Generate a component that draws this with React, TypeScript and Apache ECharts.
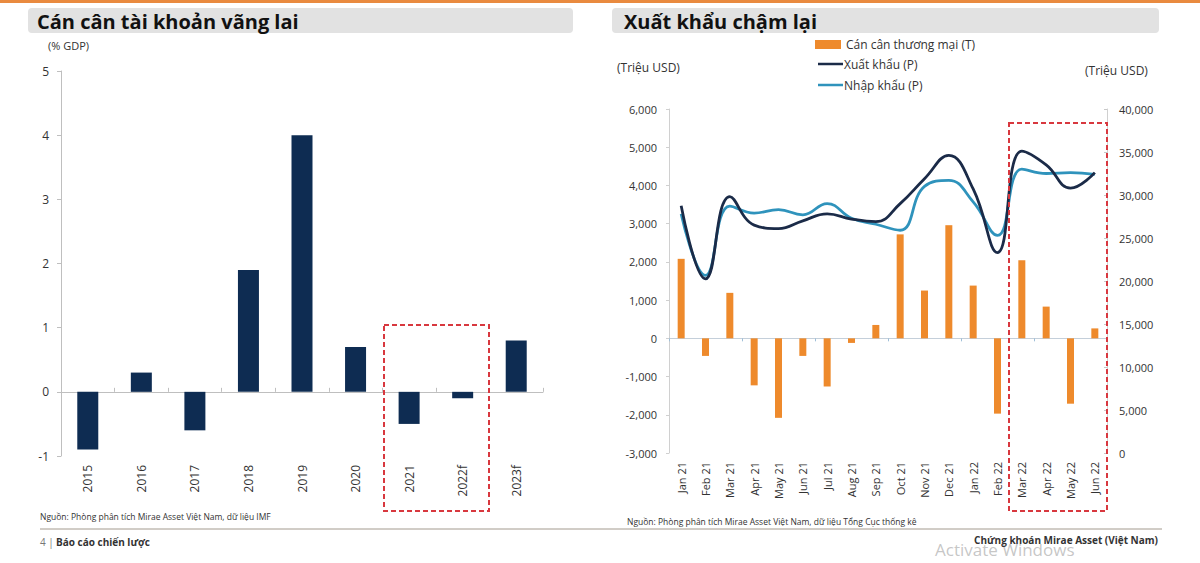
import React, { useEffect, useRef } from "react";
import * as echarts from "echarts";

const years = ["2015", "2016", "2017", "2018", "2019", "2020", "2021", "2022f", "2023f"];
const currentAccount = [-0.9, 0.3, -0.6, 1.9, 4.0, 0.7, -0.5, -0.1, 0.8];

const months = [
  "Jan 21", "Feb 21", "Mar 21", "Apr 21", "May 21", "Jun 21", "Jul 21", "Aug 21", "Sep 21",
  "Oct 21", "Nov 21", "Dec 21", "Jan 22", "Feb 22", "Mar 22", "Apr 22", "May 22", "Jun 22",
];
const tradeBalance = [2080, -460, 1190, -1230, -2080, -460, -1260, -120, 350, 2720, 1250, 2960, 1380, -1970, 2040, 830, -1710, 260];
const exportsP = [28750, 20250, 29800, 26500, 26100, 27000, 27800, 27200, 26900, 29000, 31900, 34600, 30700, 23300, 35100, 33500, 30800, 32600];
const importsP = [27800, 20650, 28700, 27900, 28300, 27700, 29000, 27300, 26600, 25900, 31000, 31700, 29200, 25300, 33000, 32500, 32600, 32400];

const leftTicks = { min: -1, max: 5, interval: 1 };
const rightLeftTicks = { min: -3000, max: 6000, interval: 1000 };
const rightRightTicks = { min: 0, max: 40000, interval: 5000 };

const FONT = "'Open Sans', 'Noto Sans', sans-serif";
const NAVY_BAR = "#0E2C52";
const ORANGE = "#EE8A2C";
const NAVY_LINE = "#1B2B48";
const TEAL_LINE = "#2F93BC";
const RED = "#D8383F";
const AXIS_GRAY = "#BFBFBF";

const fmt = (v: number) => v.toLocaleString("en-US");

export default function App() {
  const ref = useRef<HTMLDivElement>(null);

  useEffect(() => {
    if (!ref.current) return;
    const chart = echarts.init(ref.current, undefined, { renderer: "svg" });

    const option: any = {
      animation: false,
      backgroundColor: "#ffffff",
      textStyle: { fontFamily: FONT },
      grid: [
        { left: 61, right: 657, top: 71, bottom: 107 },
        { left: 669, right: 93, top: 109, bottom: 110 },
      ],
      xAxis: [
        {
          gridIndex: 0, type: "category", data: years, position: "bottom",
          axisLine: { show: false, onZero: false }, axisTick: { show: false },
          axisLabel: { rotate: 90, margin: 9, fontSize: 12, color: "#333", fontFamily: FONT },
        },
        {
          gridIndex: 0, type: "category", data: years, position: "bottom",
          axisLine: { show: true, onZero: true, onZeroAxisIndex: 0, lineStyle: { color: AXIS_GRAY, width: 1 } },
          axisTick: { show: true, inside: true, length: 4, lineStyle: { color: AXIS_GRAY } },
          axisLabel: { show: false },
        },
        {
          gridIndex: 1, type: "category", data: months, position: "bottom",
          axisLine: { show: false, onZero: false }, axisTick: { show: false },
          axisLabel: { rotate: 90, margin: 9, fontSize: 11, color: "#333", fontFamily: FONT },
        },
        {
          gridIndex: 1, type: "category", data: months, position: "bottom",
          axisLine: { show: true, onZero: true, lineStyle: { color: "#C4CFDA", width: 1 } },
          axisTick: { show: true, inside: false, length: 3, lineStyle: { color: "#9FBFD8" } },
          axisLabel: { show: false },
        },
      ],
      yAxis: [
        {
          gridIndex: 0, type: "value", ...leftTicks,
          splitLine: { show: false },
          axisLine: { show: true, lineStyle: { color: AXIS_GRAY } },
          axisTick: { show: true, length: 4, lineStyle: { color: AXIS_GRAY } },
          axisLabel: { margin: 12, fontSize: 12, color: "#333", fontFamily: FONT },
        },
        {
          gridIndex: 1, type: "value", position: "left", ...rightLeftTicks,
          splitLine: { show: false },
          axisLine: { show: true, lineStyle: { color: "#D0D0D0" } },
          axisTick: { show: true, length: 3, lineStyle: { color: "#D0D0D0" } },
          axisLabel: { margin: 12, fontSize: 11, color: "#333", fontFamily: FONT, formatter: fmt },
        },
        {
          gridIndex: 1, type: "value", position: "right", ...rightRightTicks,
          splitLine: { show: false },
          axisLine: { show: true, lineStyle: { color: "#D0D0D0" } },
          axisTick: { show: true, inside: true, length: 3, lineStyle: { color: "#C8C8C8" } },
          axisLabel: { margin: 12, fontSize: 11, color: "#333", fontFamily: FONT, formatter: fmt },
        },
      ],
      series: [
        {
          name: "Cán cân tài khoản vãng lai", type: "bar", xAxisIndex: 0, yAxisIndex: 0,
          data: currentAccount, barWidth: 21, itemStyle: { color: NAVY_BAR },
        },
        {
          name: "Cán cân thương mại (T)", type: "bar", xAxisIndex: 2, yAxisIndex: 1,
          data: tradeBalance, barWidth: 7, itemStyle: { color: ORANGE },
        },
        {
          name: "Nhập khẩu (P)", type: "line", xAxisIndex: 2, yAxisIndex: 2,
          data: importsP, smooth: 0.45, symbol: "none",
          lineStyle: { color: TEAL_LINE, width: 2.8 }, itemStyle: { color: TEAL_LINE }, z: 3,
        },
        {
          name: "Xuất khẩu (P)", type: "line", xAxisIndex: 2, yAxisIndex: 2,
          data: exportsP, smooth: 0.45, symbol: "none",
          lineStyle: { color: NAVY_LINE, width: 2.8 }, itemStyle: { color: NAVY_LINE }, z: 4,
        },
      ],
      graphic: [
        // top orange rule
        { type: "rect", shape: { x: 0, y: 0, width: 1200, height: 3 }, style: { fill: "#E98A3F" }, silent: true },
        // title bars
        { type: "rect", shape: { x: 28, y: 8, width: 545, height: 25, r: 4 }, style: { fill: "#E2E2E2" } },
        { type: "rect", shape: { x: 612, y: 8, width: 547, height: 25, r: 4 }, style: { fill: "#E2E2E2" } },
        {
          type: "text", x: 37, y: 21,
          style: { text: "Cán cân tài khoản vãng lai", fill: "#111", font: `bold 20px ${FONT}`, verticalAlign: "middle" },
        },
        {
          type: "text", x: 624, y: 21,
          style: { text: "Xuất khẩu chậm lại", fill: "#111", font: `bold 20px ${FONT}`, verticalAlign: "middle" },
        },
        // unit labels
        { type: "text", x: 48, y: 45, style: { text: "(% GDP)", fill: "#333", font: `11px ${FONT}`, verticalAlign: "middle" } },
        { type: "text", x: 617, y: 67, style: { text: "(Triệu USD)", fill: "#333", font: `12px ${FONT}`, verticalAlign: "middle" } },
        { type: "text", x: 1085, y: 70, style: { text: "(Triệu USD)", fill: "#333", font: `12px ${FONT}`, verticalAlign: "middle" } },
        // legend
        { type: "rect", shape: { x: 815, y: 40, width: 26, height: 9 }, style: { fill: ORANGE } },
        { type: "text", x: 846, y: 44, style: { text: "Cán cân thương mại (T)", fill: "#333", font: `12px ${FONT}`, verticalAlign: "middle" } },
        { type: "line", shape: { x1: 818, y1: 64, x2: 843, y2: 64 }, style: { stroke: NAVY_LINE, lineWidth: 2.5 } },
        { type: "text", x: 844, y: 64, style: { text: "Xuất khẩu (P)", fill: "#333", font: `12px ${FONT}`, verticalAlign: "middle" } },
        { type: "line", shape: { x1: 818, y1: 85, x2: 843, y2: 85 }, style: { stroke: TEAL_LINE, lineWidth: 2.5 } },
        { type: "text", x: 844, y: 85, style: { text: "Nhập khẩu (P)", fill: "#333", font: `12px ${FONT}`, verticalAlign: "middle" } },
        // red dashed highlight boxes
        {
          type: "rect", shape: { x: 384, y: 325, width: 105, height: 186 },
          style: { fill: "none", stroke: RED, lineWidth: 2, lineDash: [5, 3] }, z: 10,
        },
        {
          type: "rect", shape: { x: 1009, y: 123, width: 98, height: 388 },
          style: { fill: "none", stroke: RED, lineWidth: 2, lineDash: [5, 3] }, z: 10,
        },
        // sources
        {
          type: "text", x: 40, y: 516,
          style: { text: "Nguồn: Phòng phân tích Mirae Asset Việt Nam, dữ liệu IMF", fill: "#333", font: `8.5px ${FONT}`, verticalAlign: "middle" },
        },
        {
          type: "text", x: 627, y: 521,
          style: { text: "Nguồn: Phòng phân tích Mirae Asset Việt Nam, dữ liệu Tổng Cục thống kê", fill: "#333", font: `8.5px ${FONT}`, verticalAlign: "middle" },
        },
        // footer
        { type: "line", shape: { x1: 40, y1: 529, x2: 1162, y2: 529 }, style: { stroke: "#A39A8E", lineWidth: 1 } },
        { type: "text", x: 40, y: 542, style: { text: "4 |", fill: "#777", font: `10px ${FONT}`, verticalAlign: "middle" } },
        { type: "text", x: 56, y: 542, style: { text: "Báo cáo chiến lược", fill: "#333", font: `bold 10px ${FONT}`, verticalAlign: "middle" } },
        {
          type: "text", x: 935, y: 549,
          style: { text: "Activate Windows", fill: "rgba(150,150,150,0.55)", font: `17px ${FONT}`, verticalAlign: "middle" },
        },
        {
          type: "text", x: 1158, y: 540,
          style: { text: "Chứng khoán Mirae Asset (Việt Nam)", fill: "#333", font: `bold 10px ${FONT}`, align: "right", verticalAlign: "middle" },
          z: 11,
        },
      ],
    };

    chart.setOption(option);
    return () => chart.dispose();
  }, []);

  return (
    <div
      ref={ref}
      style={{ position: "fixed", left: 0, top: 0, width: 1200, height: 563, background: "#fff" }}
    />
  );
}
